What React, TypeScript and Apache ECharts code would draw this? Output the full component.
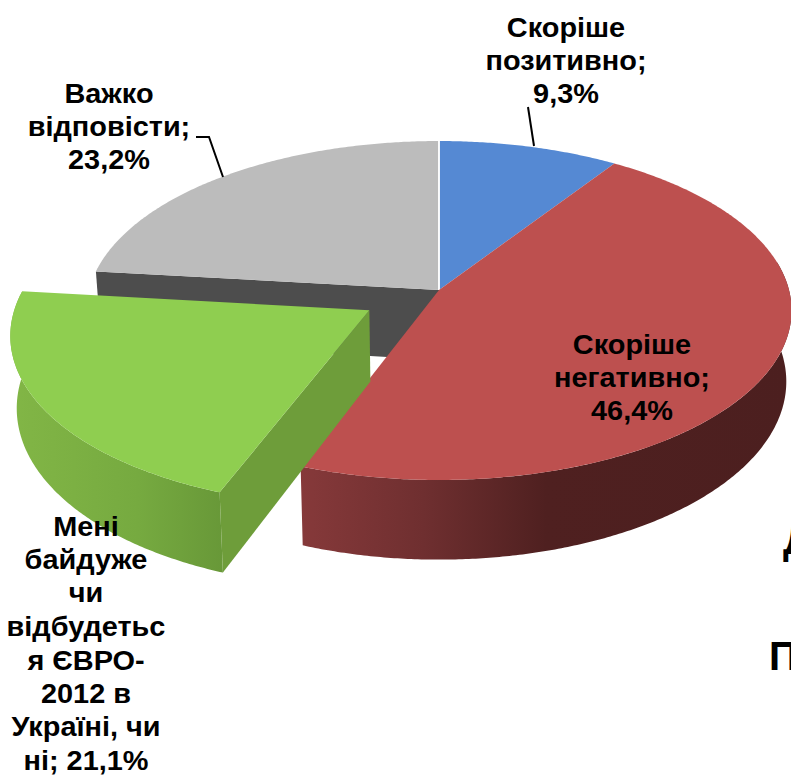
import React, { useEffect, useRef } from "react";
import * as echarts from "echarts";

const categories = ["Скоріше позитивно", "Скоріше негативно", "Мені байдуже чи відбудеться ЄВРО-2012 в Україні, чи ні", "Важко відповісти"];
const shares = [9.3, 46.4, 21.1, 23.2];
const explode = [0, 0, 0.23, 0];
const topColors = ["#5589d3", "#bd504f", "#8fce50", "#bcbcbc"];
const paintOrder = [2, 3, 4, 1];

const CX = 439, CY = 290, RX = 350, RY = 167, K = 0.121, DEPTH = 70, SHRINK = 0.985;
const FONT = 'bold 27.5px "Liberation Sans"';

function project(u: number, v: number, low: boolean): number[] {
  const s = 1 / (1 - K * v);
  const x = RX * u * s, y = RY * v * s;
  return low ? [CX + x * SHRINK, CY + y + DEPTH * s] : [CX + x, CY + y];
}
function rimPoint(deg: number, ox: number, oy: number, low: boolean): number[] {
  const a = (deg * Math.PI) / 180;
  return project(Math.sin(a) + ox, -Math.cos(a) + oy, low);
}
function arc(from: number, to: number, ox: number, oy: number, low: boolean): number[][] {
  const n = Math.max(2, Math.ceil(Math.abs(to - from) * 2));
  const out: number[][] = [];
  for (let i = 0; i <= n; i++) out.push(rimPoint(from + ((to - from) * i) / n, ox, oy, low));
  return out;
}

function renderSlice(params: any, api: any) {
  const i = params.dataIndex;
  const before = shares.slice(0, i).reduce((a, b) => a + b, 0);
  const total = shares.reduce((a, b) => a + b, 0);
  const start = (before / total) * 360;
  const end = start + (Number(api.value(0)) / total) * 360;
  const mid = ((start + end) / 2) * (Math.PI / 180);
  const ox = Math.sin(mid) * explode[i], oy = -Math.cos(mid) * explode[i];
  const apex = project(ox, oy, false), apexLow = project(ox, oy, true);
  const z2 = paintOrder[i];
  const children: any[] = [];
  const grad = (stops: [number, string][]) =>
    new echarts.graphic.LinearGradient(0, 0, 1, 0, stops.map(([offset, color]) => ({ offset, color })));
  const wall = (from: number, to: number, fill: any) => ({
    type: "polygon", z2,
    shape: { points: [...arc(from, to, ox, oy, false), ...arc(to, from, ox, oy, true)] },
    style: { fill },
  });
  if (i === 1) {
    children.push(wall(80, end, grad([[0, "#86393a"], [0.25, "#6f2f30"], [0.5, "#4f2020"], [1, "#4c1f1f"]])));
  }
  if (i === 2) {
    const c = rimPoint(start, ox, oy, false), cl = rimPoint(start, ox, oy, true);
    children.push(wall(start, end, grad([[0, "#82b646"], [0.6, "#76aa40"], [1, "#689838"]])));
    children.push({ type: "polygon", z2, shape: { points: [apex, c, cl, apexLow] }, style: { fill: "#6e9d3a" } });
  }
  if (i === 3) {
    const c = rimPoint(start, ox, oy, false), cl = rimPoint(start, ox, oy, true);
    children.push({ type: "polygon", z2, shape: { points: [apex, c, cl, apexLow] }, style: { fill: "#4d4d4d" } });
  }
  children.push({
    type: "polygon", z2,
    shape: { points: [apex, ...arc(start, end, ox, oy, false)] },
    style: { fill: topColors[i] },
  });
  if (i === 0 || i === 3) {
    const top = rimPoint(0, 0, 0, false);
    children.push({ type: "line", z2: 2.5, shape: { x1: apex[0], y1: apex[1], x2: top[0], y2: top[1] }, style: { stroke: "#ffffff", lineWidth: 1.5 } });
  }
  return { type: "group", children };
}

const labels = [
  { lines: ["Скоріше", "позитивно;", "9,3%"], x: 566, y: 10 },
  { lines: ["Скоріше", "негативно;", "46,4%"], x: 632, y: 327 },
  { lines: ["Мені", "байдуже", "чи", "відбудетьс", "я ЄВРО-", "2012 в", "Україні, чи", "ні; 21,1%"], x: 86, y: 509 },
  { lines: ["Важко", "відповісти;", "23,2%"], x: 109, y: 76 },
];
const leaders = [
  [[528, 107], [534, 146]],
  [[196, 137], [209, 137], [223, 177]],
];
const clippedTitle = [
  { text: "Д", x: 783, y: 520 },
  { text: "П", x: 769, y: 636 },
];

export default function App() {
  const ref = useRef<HTMLDivElement>(null);
  useEffect(() => {
    document.body.style.margin = "0";
    const chart = echarts.init(ref.current!, undefined, { renderer: "svg" });
    chart.setOption({
      animation: false,
      backgroundColor: "#ffffff",
      series: [{
        type: "custom",
        coordinateSystem: "none",
        renderItem: renderSlice,
        silent: true,
        data: shares.map((v, i) => ({ name: categories[i], value: [v] })),
      }],
      graphic: {
        elements: [
          ...leaders.map((points) => ({
            type: "polyline", z: 100, shape: { points },
            style: { stroke: "#000000", lineWidth: 2, fill: "none" },
          })),
          ...labels.map((l) => ({
            type: "text", z: 100, x: l.x, y: l.y, scaleX: 1.05,
            style: { text: l.lines.join("\n"), font: FONT, lineHeight: 33.5, align: "center", verticalAlign: "top", fill: "#000000" },
          })),
          ...clippedTitle.map((t) => ({
            type: "text", z: 100, x: t.x, y: t.y,
            style: { text: t.text, font: 'bold 40px "Liberation Sans"', align: "left", verticalAlign: "top", fill: "#000000" },
          })),
        ],
      },
    });
    return () => chart.dispose();
  }, []);
  return <div ref={ref} style={{ width: 791, height: 777, overflow: "hidden" }} />;
}
